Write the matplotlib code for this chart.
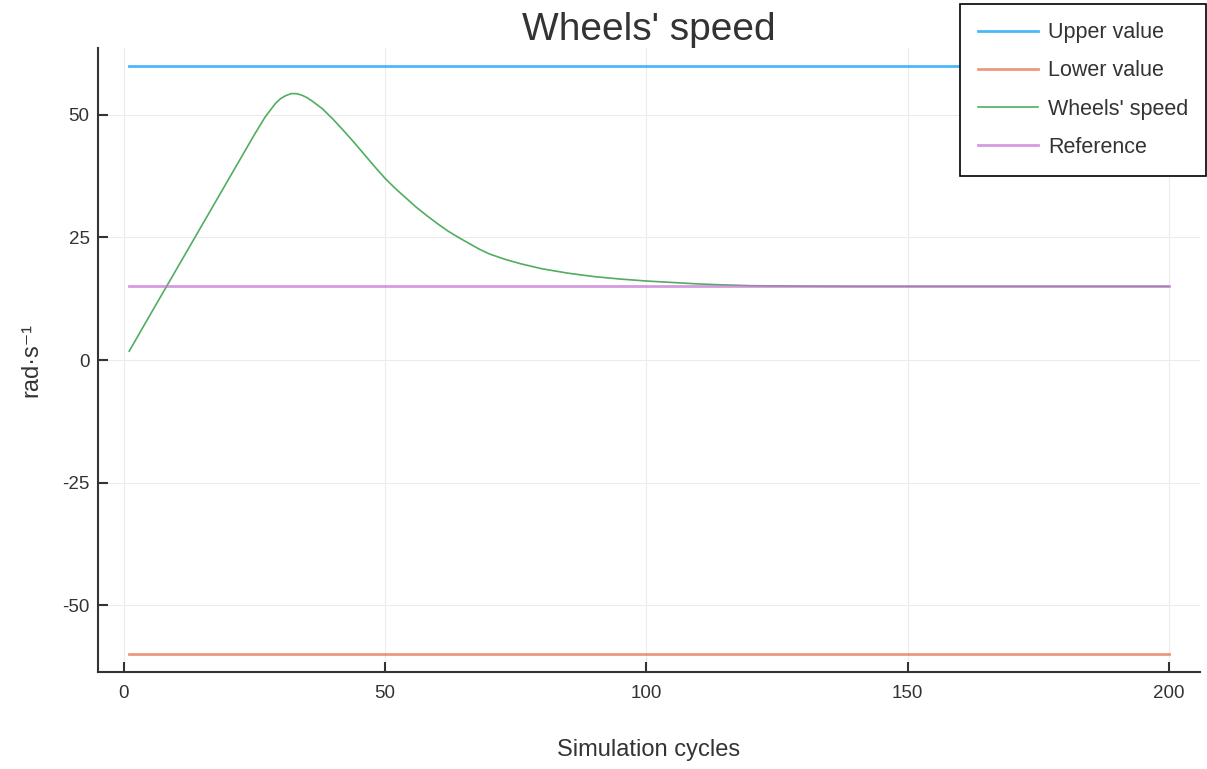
import numpy as np
import matplotlib
matplotlib.use("Agg")
from matplotlib import pyplot as plt

plt.rcParams['font.family'] = ['Liberation Sans', 'DejaVu Sans']
plt.rcParams['axes.unicode_minus'] = False

# simulation data
cycles = [1, 5, 10, 15, 20, 25, 27, 29, 30, 31, 32, 33, 34, 35, 36, 38, 40, 42,
          44, 46, 48, 50, 52, 54, 56, 58, 60, 62, 64, 66, 68, 70, 73, 76, 80,
          85, 90, 95, 100, 105, 110, 115, 120, 130, 140, 150, 160, 170, 180,
          190, 200]
wheel_speed = [1.8, 9.2, 18.4, 27.6, 36.8, 46.0, 49.5, 52.3, 53.3, 53.9, 54.3,
               54.3, 54.0, 53.5, 52.8, 51.2, 49.1, 46.8, 44.4, 41.9, 39.4, 37.0,
               34.9, 33.0, 31.1, 29.4, 27.8, 26.3, 25.0, 23.8, 22.6, 21.6, 20.5,
               19.6, 18.6, 17.7, 17.0, 16.5, 16.1, 15.8, 15.5, 15.3, 15.15,
               15.05, 15.0, 15.0, 15.0, 15.0, 15.0, 15.0, 15.0]
upper_value = 60
lower_value = -60
reference = 15

xticks = [0, 50, 100, 150, 200]
yticks = [-50, -25, 0, 25, 50]

n = len(cycles)
fig = plt.figure(figsize=(12.07, 7.69), dpi=100)
ax = fig.add_axes([0.0812, 0.1261, 0.9130, 0.8115])

ax.plot(cycles, np.full(n, upper_value), color='#009AFA', lw=2, alpha=0.7, label='Upper value')
ax.plot(cycles, np.full(n, lower_value), color='#E36F47', lw=2, alpha=0.7, label='Lower value')
ax.plot(cycles, wheel_speed, color='#3EA44E', lw=1.2, alpha=0.9, label="Wheels' speed")
ax.plot(cycles, np.full(n, reference), color='#C371D2', lw=2, alpha=0.7, label='Reference')

ax.set_xlim(-4.97, 205.97)
ax.set_ylim(-63.6, 63.6)
ax.set_xticks(xticks)
ax.set_yticks(yticks)
ax.grid(True, color='#ececec', lw=0.8)
ax.set_axisbelow(True)

for s in ['top', 'right']:
    ax.spines[s].set_visible(False)
for s in ['left', 'bottom']:
    ax.spines[s].set_linewidth(1.5)
    ax.spines[s].set_color('#333333')
ax.tick_params(direction='in', length=7, width=1.5, color='#333333',
               labelsize=13.5, labelcolor='#333333')
ax.tick_params(axis='x', pad=9)
ax.tick_params(axis='y', pad=6)

ax.set_title("Wheels' speed", fontsize=28, color='#333333', pad=3)
ax.set_xlabel('Simulation cycles', fontsize=17, color='#333333', labelpad=27)
ax.set_ylabel('rad·s⁻¹', fontsize=17, color='#333333', labelpad=14)

leg = ax.legend(loc='upper right', bbox_to_anchor=(0.9995, 0.995),
                bbox_transform=fig.transFigure, fontsize=15.5, frameon=True,
                fancybox=False, edgecolor='black', framealpha=1,
                handlelength=2.8, labelspacing=0.8, borderpad=0.85,
                handletextpad=0.45, borderaxespad=0)
leg.get_frame().set_linewidth(1.2)
for t in leg.get_texts():
    t.set_color('#333333')

plt.savefig('out.png', dpi=100)
